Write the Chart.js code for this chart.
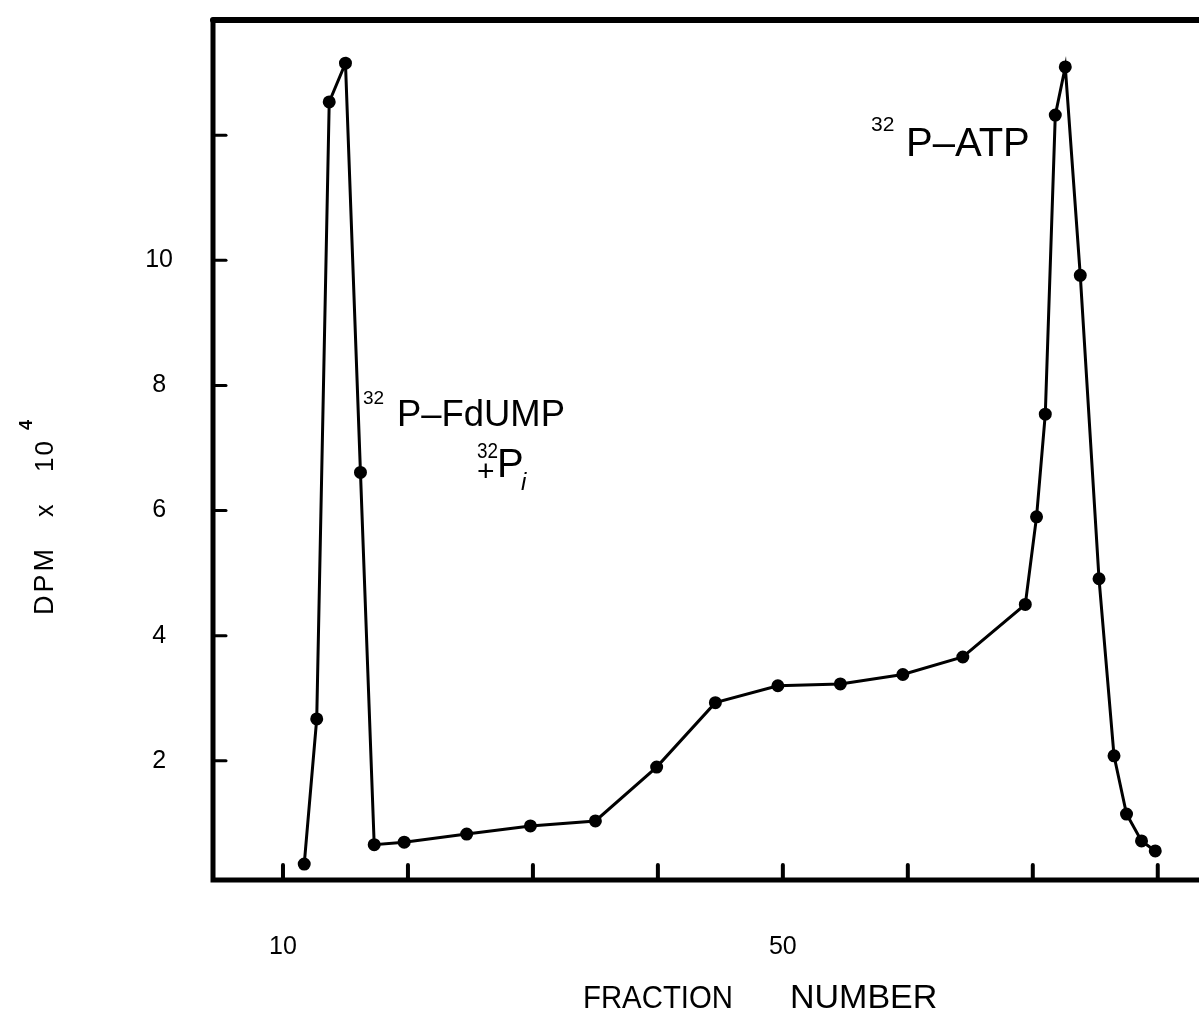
<!DOCTYPE html>
<html>
<head>
<meta charset="utf-8">
<script src="https://cdn.jsdelivr.net/npm/chart.js@4.4.0/dist/chart.umd.min.js"></script>
<style>
html, body { margin: 0; padding: 0; background: #fff; }
</style>
</head>
<body>
<canvas id="chart" width="1199" height="1014"></canvas>
<script>
var fractionList = [11.7, 12.7, 13.7, 15.0, 16.2, 17.3, 19.7, 24.7, 29.8, 35.0, 39.9, 44.6, 49.6, 54.6,
    59.6, 64.4, 69.4, 70.3, 71.0, 71.8, 72.6, 73.8, 75.3, 76.5, 77.5, 78.7, 79.8]
var dpmList = [0.35, 2.67, 12.53, 13.15, 6.61, 0.66, 0.70, 0.83, 0.96, 1.04, 1.90, 2.93, 3.20, 3.23,
    3.38, 3.66, 4.50, 5.90, 7.54, 12.32, 13.09, 9.76, 4.91, 2.08, 1.15, 0.72, 0.56]
var xTicks = [10, 20, 30, 40, 50, 60, 70, 80]
var xTickLabels = ['10', '', '', '', '50', '', '', '']
var yTicks = [2, 4, 6, 8, 10, 12]
var yTickLabels = ['2', '4', '6', '8', '10', '']

var fontName = '"Liberation Sans", Arial, sans-serif'

function text(ctx, str, x, y, size, maxWidth) {
    ctx.font = size + 'px ' + fontName
    if (maxWidth) {
        ctx.fillText(str, x, y, maxWidth)
    } else {
        ctx.fillText(str, x, y)
    }
}

// frame, inward tick marks and the hand lettered labels
var framePlugin = {
    id: 'frame',
    afterDraw: function (chart) {
        var ctx = chart.ctx
        var area = chart.chartArea
        var xScale = chart.scales.x
        var yScale = chart.scales.y

        ctx.save()
        ctx.strokeStyle = '#000'
        ctx.fillStyle = '#000'
        ctx.lineCap = 'round'

        ctx.lineWidth = 6
        ctx.beginPath()
        ctx.moveTo(chart.width + 5, area.top)
        ctx.lineTo(area.left, area.top)
        ctx.stroke()

        ctx.lineWidth = 5
        ctx.beginPath()
        ctx.moveTo(area.left, area.top)
        ctx.lineTo(area.left, area.bottom)
        ctx.lineTo(chart.width + 5, area.bottom)
        ctx.stroke()

        ctx.lineWidth = 3
        yTicks.forEach(function (v) {
            var py = yScale.getPixelForValue(v)
            ctx.beginPath()
            ctx.moveTo(area.left, py)
            ctx.lineTo(area.left + 13, py)
            ctx.stroke()
        })
        ctx.lineWidth = 4
        xTicks.forEach(function (v) {
            var px = xScale.getPixelForValue(v)
            ctx.beginPath()
            ctx.moveTo(px, area.bottom)
            ctx.lineTo(px, area.bottom - 15)
            ctx.stroke()
        })

        ctx.textAlign = 'left'
        ctx.textBaseline = 'alphabetic'

        // peak labels
        text(ctx, '32', 363, 404, 19)
        text(ctx, 'P\u2013FdUMP', 397, 426, 37, 168)
        text(ctx, '32', 477, 458, 22, 21)
        text(ctx, '+', 477, 481, 30)
        text(ctx, 'P', 497, 477, 40)
        ctx.font = 'italic 24px ' + fontName
        ctx.fillText('i', 521, 490)
        text(ctx, '32', 871, 131, 21, 31)
        text(ctx, 'P\u2013ATP', 906, 156, 40, 130)

        // x axis title
        text(ctx, 'FRACTION', 583, 1008, 32, 150)
        text(ctx, 'NUMBER', 790, 1008, 34, 148)

        // y axis title, rotated
        ctx.translate(53, 615)
        ctx.rotate(-Math.PI / 2)
        ctx.letterSpacing = '3px'
        text(ctx, 'DPM', 0, 0, 27)
        ctx.letterSpacing = '0px'
        text(ctx, 'x', 98, 0, 25)
        ctx.letterSpacing = '2px'
        text(ctx, '10', 143, 0, 26)
        ctx.letterSpacing = '0px'
        ctx.font = 'bold 18px ' + fontName
        ctx.fillText('4', 185, -21)
        ctx.restore()
    }
}

function createGraph() {
    var points = fractionList.map(function (f, i) {
        return { x: f, y: dpmList[i] }
    })
    var ctx = document.getElementById('chart').getContext('2d')
    var chart = new Chart(ctx, {
        type: 'scatter',
        data: {
            datasets: [{
                data: points,
                showLine: true,
                borderColor: '#000',
                backgroundColor: '#000',
                borderWidth: 3,
                pointRadius: 5,
                pointHoverRadius: 5,
                tension: 0
            }]
        },
        options: {
            responsive: false,
            animation: false,
            devicePixelRatio: 1,
            layout: {
                autoPadding: false,
                padding: { top: 20, left: 0, right: 0, bottom: 0 }
            },
            plugins: {
                legend: { display: false },
                tooltip: { enabled: false }
            },
            scales: {
                x: {
                    type: 'linear',
                    min: 4.4,
                    max: 83.3,
                    grid: { display: false, drawTicks: false },
                    border: { display: false },
                    afterBuildTicks: function (scale) {
                        scale.ticks = xTicks.map(function (v) { return { value: v } })
                    },
                    afterFit: function (scale) {
                        scale.height = 134
                        scale.paddingLeft = 0
                        scale.paddingRight = 0
                    },
                    ticks: {
                        padding: 52,
                        maxRotation: 0,
                        autoSkip: false,
                        color: '#000',
                        font: { family: fontName, size: 25 },
                        callback: function (value, index) {
                            return xTickLabels[index]
                        }
                    }
                },
                y: {
                    min: 0.096,
                    max: 13.84,
                    grid: { display: false, drawTicks: false },
                    border: { display: false },
                    afterBuildTicks: function (scale) {
                        scale.ticks = yTicks.map(function (v) { return { value: v } })
                    },
                    afterFit: function (scale) {
                        scale.width = 213
                        scale.paddingTop = 0
                        scale.paddingBottom = 0
                    },
                    ticks: {
                        padding: 40,
                        crossAlign: 'center',
                        autoSkip: false,
                        color: '#000',
                        font: { family: fontName, size: 25 },
                        callback: function (value, index) {
                            return yTickLabels[index]
                        }
                    }
                }
            }
        },
        plugins: [framePlugin]
    })
}

createGraph()
</script>
</body>
</html>
